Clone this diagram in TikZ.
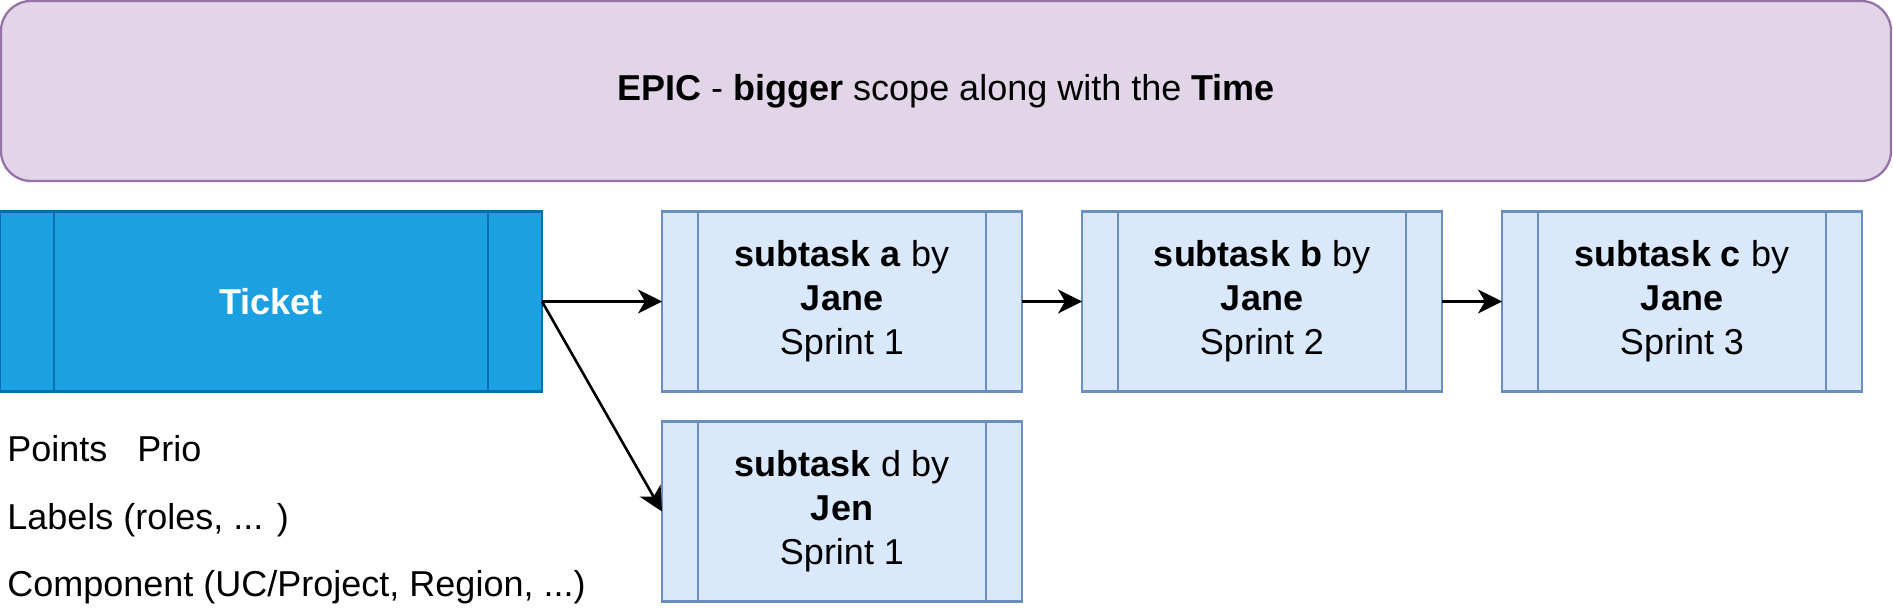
\documentclass[tikz,border=0pt]{standalone}
\usepackage{fontspec}
\setmainfont{Liberation Sans}
\usetikzlibrary{positioning,arrows.meta}

\definecolor{epicfill}{HTML}{E1D5E7}
\definecolor{epicline}{HTML}{9673A6}
\definecolor{ticketfill}{HTML}{1BA1E2}
\definecolor{ticketline}{HTML}{006EAF}
\definecolor{taskfill}{HTML}{DAE8FC}
\definecolor{taskline}{HTML}{6C8EBF}

\tikzset{
  txt/.style={font=\fontsize{18}{22}\selectfont},
  procbox/.style 2 args={draw=#2, line width=1.15pt, rectangle, minimum height=90pt,
    inner sep=0pt, outer sep=0pt, align=center, txt,
    path picture={
      \draw[#2, line width=1.15pt]
        ([xshift=#1]path picture bounding box.north west) -- ([xshift=#1]path picture bounding box.south west)
        ([xshift=-#1]path picture bounding box.north east) -- ([xshift=-#1]path picture bounding box.south east);
    }},
  ticketbox/.style={procbox={27pt}{ticketline}, fill=ticketfill, minimum width=271pt, text=white, font=\fontsize{18}{22}\selectfont\bfseries},
  subtask/.style={procbox={18pt}{taskline}, fill=taskfill, minimum width=180pt},
  epicbox/.style={draw=epicline, fill=epicfill, line width=1.15pt, rounded corners=15pt,
    minimum width=945pt, minimum height=90pt, txt},
  notes/.style={txt, inner sep=0pt, anchor=base west},
  arrow/.style={line width=1.3pt, -{Stealth[length=12pt, width=12pt, inset=3.5pt]}}
}

\begin{document}
\begin{tikzpicture}[x=0.5pt, y=-0.5pt]
  \useasboundingbox (0,0) rectangle (1893,609);

  \node [epicbox] (epic) at (946,91) {\textbf{EPIC} - \textbf{bigger} scope along with the \textbf{Time}};

  \node [ticketbox] (ticket) at (271,301.5) {Ticket};
  \node [subtask, right=60pt of ticket] (taska) {\textbf{subtask a} by\\ \textbf{Jane}\\ Sprint 1};
  \node [subtask, right=30pt of taska] (taskb) {\textbf{subtask b} by\\ \textbf{Jane}\\ Sprint 2};
  \node [subtask, right=30pt of taskb] (taskc) {\textbf{subtask c} by\\ \textbf{Jane}\\ Sprint 3};
  \node [subtask, below=15pt of taska] (taskd) {\textbf{subtask} d by\\ \textbf{Jen}\\ Sprint 1};

  \node [notes] (points) at (7,461) {Points\ \ \ Prio};
  \node [notes] (labels) at (7,529) {Labels (roles, ... )};
  \node [notes] (component) at (7,596) {Component (UC/Project, Region, ...)};

  \draw [arrow] (ticket) -- (taska);
  \draw [arrow] (taska) -- (taskb);
  \draw [arrow] (taskb) -- (taskc);
  \draw [arrow] (ticket.east) -- (taskd.west);

\end{tikzpicture}
\end{document}
